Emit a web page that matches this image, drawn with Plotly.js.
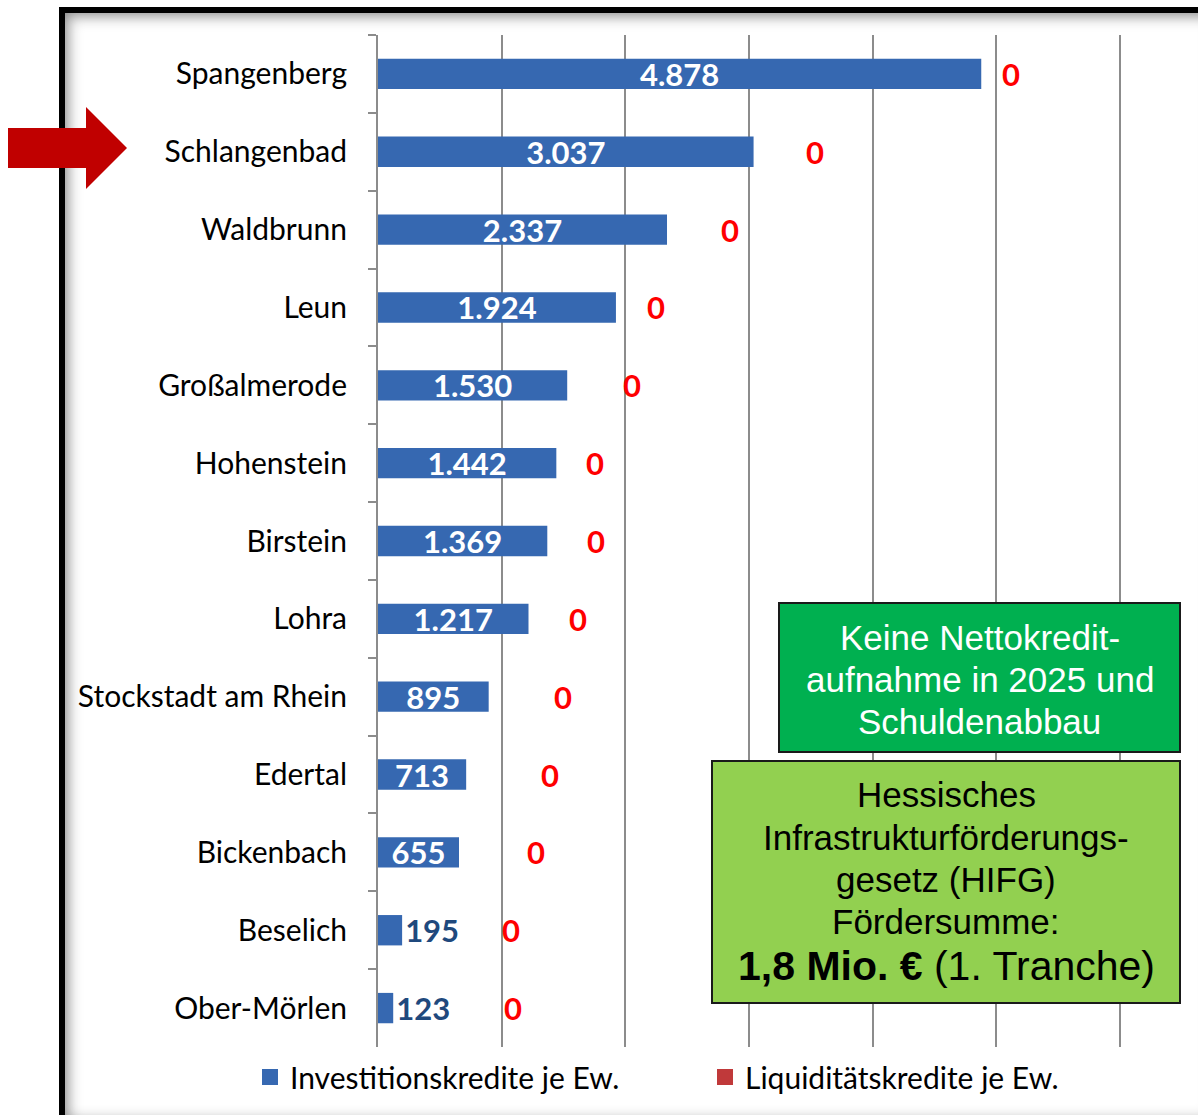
<!DOCTYPE html>
<html>
<head>
<meta charset="utf-8">
<script src="https://cdn.plot.ly/plotly-3.0.1.min.js"></script>
<style>
  html, body { margin: 0; padding: 0; width: 1198px; height: 1115px; overflow: hidden; background: #ffffff; }
  #frame { position: absolute; left: 59px; top: 7px; width: 1150px; height: 1110px;
           border: 6px solid #000; background: #fff;
           box-shadow: inset 4px 4px 14px rgba(0,0,0,0.35), inset -4px -4px 14px rgba(0,0,0,0.3); }
  #chart { position: absolute; left: 0; top: 0; width: 1198px; height: 1115px; }
</style>
</head>
<body>
<div id="frame"></div>
<div id="chart"></div>
<script>
// ---- data ----
const municipalities = ["Spangenberg", "Schlangenbad", "Waldbrunn", "Leun", "Großalmerode",
  "Hohenstein", "Birstein", "Lohra", "Stockstadt am Rhein", "Edertal", "Bickenbach",
  "Beselich", "Ober-Mörlen"];
const investitionskredite = [4878, 3037, 2337, 1924, 1530, 1442, 1369, 1217, 895, 713, 655, 195, 123];
const liquiditaetskredite = [0, 0, 0, 0, 0, 0, 0, 0, 0, 0, 0, 0, 0];
const seriesNames = ["Investitionskredite je Ew.", "Liquiditätskredite je Ew."];
const seriesColors = ["#3668b1", "#c0393a"];
const box1Lines = ["Keine Nettokredit-", "aufnahme in 2025 und", "Schuldenabbau"];
const box2Lines = ["Hessisches", "Infrastrukturförderungs-", "gesetz (HIFG)", "Fördersumme:",
  "<b>1,8 Mio. €</b> (1. Tranche)"];

// ---- styling helpers (label placement, not data) ----
const zeroLabelX = [5121, 3530, 2843, 2246, 2052, 1753, 1761, 1616, 1494, 1389, 1276, 1074, 1090];
const barTextPos = ["inside","inside","inside","inside","inside","inside","inside","inside","inside","inside","inside","outside","outside"];
const box1LineY = [637, 679, 721];
const box2LineY = [794, 837, 879, 921, 966];
const box2LineSize = [35, 35, 35, 35, 41];

const W = 1198, H = 1115;
const mL = 378, mR = 8, mT = 35, mB = 68;
const pw = W - mL - mR, ph = H - mT - mB;
const px = x => (x - mL) / pw;
const py = y => (H - mB - y) / ph;

const traces = [
  {
    type: "bar", orientation: "h", name: seriesNames[0], showlegend: false,
    y: municipalities, x: investitionskredite,
    width: 0.39,
    marker: { color: seriesColors[0] },
    texttemplate: "%{x:,}",
    textposition: barTextPos,
    constraintext: "none",
    insidetextanchor: "middle",
    insidetextfont: { family: "Lato", size: 31, color: "#ffffff", weight: "bold" },
    outsidetextfont: { family: "Lato", size: 31, color: "#1f497d", weight: "bold" },
    cliponaxis: false,
    hoverinfo: "skip"
  },
  {
    type: "bar", orientation: "h", name: seriesNames[1], showlegend: false,
    y: municipalities, x: liquiditaetskredite,
    width: 0.39,
    marker: { color: seriesColors[1] },
    hoverinfo: "skip"
  },
  // legend entries (larger square symbols)
  {
    type: "scatter", mode: "markers", name: seriesNames[0], x: [null], y: [null],
    marker: { symbol: "square", size: 20, color: seriesColors[0] }, hoverinfo: "skip"
  },
  {
    type: "scatter", mode: "markers", name: seriesNames[1], x: [null], y: [null],
    marker: { symbol: "square", size: 20, color: seriesColors[1] }, hoverinfo: "skip"
  }
];

const annotations = municipalities.map((m, i) => ({
  x: zeroLabelX[i], y: m, xref: "x", yref: "y",
  text: String(liquiditaetskredite[i]),
  showarrow: false, xanchor: "center", yanchor: "middle",
  font: { family: "Lato", size: 31, color: "#ff0000", weight: "bold" }
}));

box1Lines.forEach((t, i) => annotations.push({
  x: px(979.5), y: py(box1LineY[i]), xref: "paper", yref: "paper",
  text: t, showarrow: false, xanchor: "center", yanchor: "middle", align: "center",
  font: { family: "Liberation Sans, Arial", size: 35, color: "#ffffff" }
}));
box2Lines.forEach((t, i) => annotations.push({
  x: px(946), y: py(box2LineY[i]), xref: "paper", yref: "paper",
  text: t, showarrow: false, xanchor: "center", yanchor: "middle", align: "center",
  font: { family: "Liberation Sans, Arial", size: box2LineSize[i], color: "#000000" }
}));

const shapes = [
  { type: "rect", xref: "paper", yref: "paper", x0: px(779), x1: px(1180), y0: py(603), y1: py(752),
    fillcolor: "#00b050", line: { color: "#1a1a1a", width: 2 }, layer: "above" },
  { type: "rect", xref: "paper", yref: "paper", x0: px(712), x1: px(1180), y0: py(761), y1: py(1003),
    fillcolor: "#92d050", line: { color: "#1a1a1a", width: 2 }, layer: "above" },
  { type: "path", xref: "paper", yref: "paper",
    path: `M${px(8)},${py(128)} L${px(86)},${py(128)} L${px(86)},${py(107)} L${px(127)},${py(148)} L${px(86)},${py(189)} L${px(86)},${py(168)} L${px(8)},${py(168)} Z`,
    fillcolor: "#c00000", line: { width: 0 }, layer: "above" }
];

const layout = {
  width: W, height: H,
  margin: { l: mL, r: mR, t: mT, b: mB, pad: 0 },
  paper_bgcolor: "rgba(0,0,0,0)", plot_bgcolor: "rgba(0,0,0,0)",
  separators: ",.",
  barmode: "overlay",
  showlegend: true,
  legend: {
    orientation: "h", x: px(250), y: py(1077), xanchor: "left", yanchor: "middle",
    font: { family: "Lato", size: 30, color: "#000000" },
    entrywidth: 410, itemwidth: 30, itemsizing: "trace", bgcolor: "rgba(0,0,0,0)"
  },
  xaxis: {
    range: [0, 6566], dtick: 1000, tick0: 0,
    showgrid: true, gridcolor: "#8c8c8c", gridwidth: 2,
    zeroline: false, showticklabels: false, showline: false, ticks: "", fixedrange: true
  },
  yaxis: {
    autorange: "reversed", type: "category",
    showline: true, linecolor: "#8c8c8c", linewidth: 2,
    ticks: "outside", ticklen: 8, tickwidth: 2, tickcolor: "#8c8c8c",
    tickson: "boundaries", showgrid: false, zeroline: false,
    ticklabelstandoff: 23,
    tickfont: { family: "Lato", size: 30, color: "#000000" }, fixedrange: true
  },
  annotations: annotations,
  shapes: shapes
};

Plotly.newPlot("chart", traces, layout, { displayModeBar: false, staticPlot: true });
</script>
</body>
</html>
